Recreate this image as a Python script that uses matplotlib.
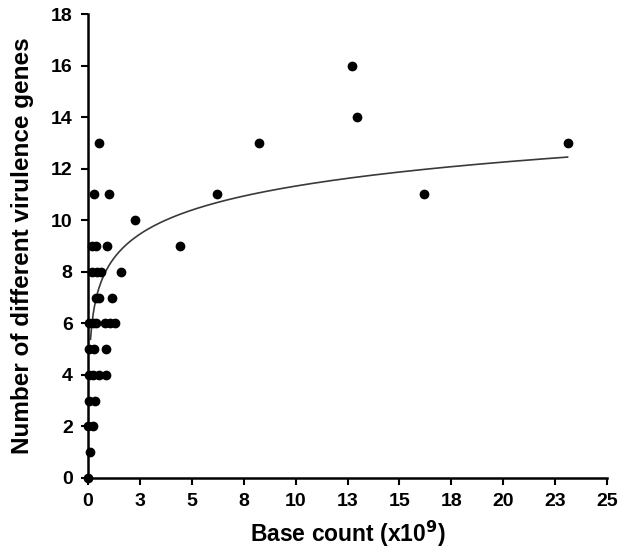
import numpy as np
import matplotlib
matplotlib.use("Agg")
import matplotlib.pyplot as plt

plt.rcParams['font.family'] = ['Liberation Sans', 'DejaVu Sans']
plt.rcParams['font.weight'] = 'bold'
plt.rcParams['mathtext.default'] = 'bf'

# Data (base count x1e9, number of virulence genes)
base_count = [0.02, 0.11, 0.02, 0.26, 0.06, 0.32,
              0.06, 0.26, 0.54, 0.87,
              0.06, 0.30, 0.87,
              0.06, 0.26, 0.39, 0.84, 1.06, 1.30,
              0.39, 0.51, 1.16,
              0.18, 0.42, 0.61, 1.57,
              0.21, 0.39, 0.90, 4.45,
              2.26,
              0.27, 1.03, 6.20,
              0.54, 8.24, 23.10,
              12.95,
              12.72,
              16.17]
genes = [0, 1, 2, 2, 3, 3,
         4, 4, 4, 4,
         5, 5, 5,
         6, 6, 6, 6, 6, 6,
         7, 7, 7,
         8, 8, 8, 8,
         9, 9, 9, 9,
         10,
         11, 11, 11,
         13, 13, 13,
         14,
         16,
         11]

# logarithmic trendline y = a*ln(x) + b, as drawn in the picture
trend_a = 1.344
trend_b = 8.23
trend_x_start = 0.12
trend_x_end = 23.10

x_ticks = [0, 2.5, 5, 7.5, 10, 12.5, 15, 17.5, 20, 22.5, 25]
x_tick_labels = ["0", "3", "5", "8", "10", "13", "15", "18", "20", "23", "25"]
y_ticks = [0, 2, 4, 6, 8, 10, 12, 14, 16, 18]

x = np.array(base_count)
y = np.array(genes)

fig = plt.figure(figsize=(6.3, 5.56), dpi=100)
ax = fig.add_axes([0.1397, 0.1403, 0.9635 - 0.1397, 0.9748 - 0.1403])

xs = np.linspace(trend_x_start, trend_x_end, 400)
ax.plot(xs, trend_a * np.log(xs) + trend_b, color='#3a3a3a', lw=1.2, zorder=2)

ax.scatter(x, y, s=36, color='black', zorder=3, clip_on=False)

ax.set_xlim(0, 25)
ax.set_ylim(0, 18)
ax.set_xticks(x_ticks)
ax.set_xticklabels(x_tick_labels)
ax.set_yticks(y_ticks)

for s in ['top', 'right']:
    ax.spines[s].set_visible(False)
for s in ['left', 'bottom']:
    ax.spines[s].set_linewidth(1.8)
    ax.spines[s].set_color('black')

ax.tick_params(direction='out', length=5, width=1.5, labelsize=14, pad=6)
for lab in ax.get_xticklabels() + ax.get_yticklabels():
    lab.set_fontweight('bold')

ax.set_xlabel('Base count (x10$^{9}$)', fontsize=16.5, fontweight='bold', labelpad=6)
ax.set_ylabel('Number of different virulence genes', fontsize=17.5, fontweight='bold', labelpad=12)

fig.savefig('out.png', dpi=100)
